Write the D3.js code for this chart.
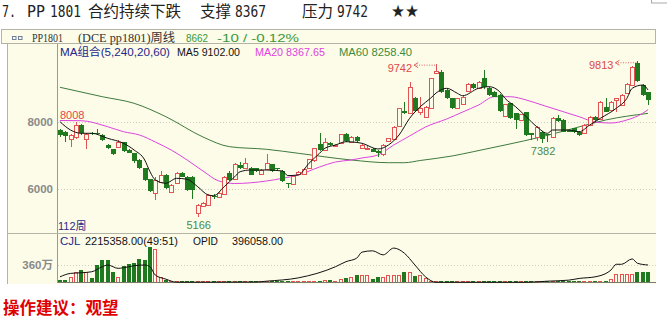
<!DOCTYPE html>
<html>
<head>
<meta charset="utf-8">
<script src="https://cdn.jsdelivr.net/npm/d3@7"></script>
<style>
body { margin: 0; background: #fff; }
svg { display: block; }
</style>
</head>
<body>
<svg id="chart" width="667" height="324"></svg>
<script>
// PP1801 weekly bars, oldest first (112 weeks)
var opens = [7760,7710,7490,7550,7910,7480,7680,7670,7610,7310,7180,7260,7390,7160,7060,6870,6620,6290,5890,6220,
  6420,5920,6170,6490,6370,6370,5270,5490,5530,5800,5760,5870,6480,6300,6720,6640,6640,6620,6440,6620,
  6740,6620,6540,6180,6140,6440,6440,6620,6840,7340,7180,7360,7290,7360,7630,7410,7560,7220,7190,7190,
  7140,7050,7410,7510,7860,8330,8260,8710,8290,8160,8410,9450,9500,8960,8710,8410,8560,8930,9130,9010,
  9300,9020,8900,8820,8160,8560,8260,8060,8290,7660,7560,7710,7630,7560,8130,8060,7760,7810,7710,7660,
  7910,8160,8110,8460,8360,8660,8510,8860,9100,9750,9100,8890];
var highs = [7800,7740,7650,8008,7940,7680,7700,7780,7640,7340,7200,7460,7410,7180,7080,6890,6640,6300,6370,6550,
  6440,6150,6500,6510,6390,6390,5560,5620,5850,5840,5900,6400,6530,6770,6815,6925,6660,6640,6600,7040,
  6760,6640,6560,6190,6410,6530,6620,6910,7230,7660,7510,7400,7350,7650,7660,7580,7580,7330,7280,7210,
  7160,7330,7530,7880,8430,8610,9200,8760,8760,8480,9320,9742,9560,8980,8730,8730,8780,9150,9150,9220,
  9550,9040,8920,8840,8550,8580,8280,8250,8310,7680,7880,7730,7650,8140,8210,8080,7780,7830,7730,7930,
  8180,8180,8630,8730,8630,8730,8830,9150,9670,9813,9120,8910];
var lows = [7560,7400,7260,7500,7620,7190,7600,7610,7420,7200,7020,7240,7100,7060,6790,6600,6250,5900,5670,6200,
  6000,5880,6150,6350,5950,5700,5166,5460,5500,5700,5740,5850,6250,6280,6600,6620,6420,6520,6420,6600,
  6520,6580,6220,6040,6120,6420,6420,6600,6820,7140,7160,7290,7260,7340,7400,7390,7410,7200,7150,7090,
  6960,6990,7390,7490,7840,8240,8240,8290,8200,8140,8390,9430,8880,8690,8390,8390,8540,8910,8990,8990,
  9000,8790,8740,8310,8140,8090,7790,8040,7590,7460,7430,7382,7400,7540,8010,7690,7690,7670,7590,7640,
  7890,8040,8090,8290,8340,8310,8490,8840,9080,9180,8790,8510];
var closes = [7610,7590,7610,7910,7660,7640,7650,7640,7460,7220,7040,7410,7110,7080,6810,6620,6270,5920,6270,6420,
  6020,6120,6470,6370,5970,5990,5520,5590,5820,5770,5880,6370,6270,6740,6630,6790,6440,6540,6570,6790,
  6540,6600,6240,6160,6390,6500,6600,6890,7210,7160,7410,7310,7320,7630,7420,7560,7430,7310,7220,7110,
  7090,7310,7510,7860,8410,8260,9050,8310,8410,8460,9300,9520,8900,8710,8410,8710,8760,9130,9010,9200,
  9020,8810,8760,8330,8530,8110,8060,8230,7610,7610,7860,7510,7590,8120,8030,7710,7710,7690,7610,7910,
  8160,8060,8610,8310,8610,8710,8810,9130,9650,9200,8810,8662];
// volume, 万手
var volume = [50,50,120,210,260,210,100,350,470,470,210,120,330,380,400,490,470,730,680,120,
  50,15,8,4,3,3,4,3,3,3,4,4,3,3,4,4,5,12,14,12,
  15,14,16,15,18,22,28,30,35,40,45,50,40,70,100,120,150,160,160,70,
  120,120,150,160,160,210,210,140,150,100,30,10,4,3,3,3,2,3,3,2,
  3,3,3,2,3,3,4,3,3,3,4,3,3,4,5,5,8,10,9,12,
  10,14,15,30,70,170,170,170,180,210,210,210];

// moving averages: [week, value]
var ma5 = [[0,8009],[2,7761],[4,7663],[6,7663],[9,7513],[12,7364],[14,7164],[16,6866],[17,6516],[18,6269],
  [20,6170],[22,6319],[24,6290],[26,6069],[28,5821],[29,5800],[31,6069],[33,6367],[34,6516],[36,6567],
  [39,6567],[42,6537],[43,6400],[45,6418],[47,6767],[49,7066],[50,7215],[52,7313],[54,7412],[57,7364],
  [60,7194],[62,7313],[64,7612],[66,8110],[68,8457],[70,8716],[71,8866],[73,9006],[75,8857],[76,8785],
  [79,9006],[81,9054],[83,8904],[84,8707],[86,8457],[88,8158],[90,7860],[92,7663],[93,7761],[96,7761],
  [98,7710],[100,7910],[102,8110],[105,8409],[107,8707],[108,9006],[110,9104],[111,8955]];
var ma20 = [[0,8045],[4,8039],[9,7860],[12,7710],[15,7612],[18,7403],[21,7164],[24,6866],[27,6537],[30,6239],
  [33,6164],[39,6239],[42,6319],[45,6418],[49,6657],[52,6806],[55,6866],[57,6925],[60,7015],[63,7313],
  [66,7582],[69,7851],[73,8090],[76,8298],[79,8507],[82,8755],[85,8755],[88,8657],[91,8507],[95,8307],
  [98,8158],[101,8000],[104,7970],[107,8060],[110,8260],[111,8368]];
var ma60 = [[0,9036],[8,8755],[14,8558],[20,8158],[27,7552],[32,7263],[39,7185],[45,7066],[55,6866],[62,6785],
  [65,6785],[68,6851],[74,6985],[78,7113],[84,7313],[91,7561],[97,7812],[103,8060],[111,8258]];
// open interest, 万手
var opid = [[0,12.8],[2,20.6],[4,22],[6,24.3],[8,35.7],[9,39.6],[11,32],[12,33.4],[14,38],[16,39.6],
  [17,35.7],[18,16.7],[20,7.6],[22,0.7],[27,0.7],[37,1.1],[39,3],[45,10.5],[52,35.7],[54,47.2],
  [56,55],[57,68.7],[59,71.7],[61,62.5],[63,77.9],[65,66.4],[67,39.6],[69,12.8],[71,0.5],[88,0.5],
  [92,3],[96,5.3],[98,9.2],[101,12.8],[104,28.2],[105,41.2],[106,41.2],[108,53.4],[109,43.5],[111,39.6]];

var priceTicks = [6000, 8000];
var volTicks = [360];

var svg = d3.select("#chart");
var bg = "#fcfce9", frame = "#b4b4a6";
var red = "#e25454", green = "#1f7a1f";
var sans = "'Liberation Sans', Arial, 'Noto Sans CJK SC', sans-serif";
var cjk = "'Noto Sans CJK SC', sans-serif";
var mono = "'DejaVu Sans Mono', monospace";

var weeks = d3.range(opens.length);
var x = d3.scaleBand().domain(weeks).range([56.5, 651.5]).padding(0.3);
function cx(i) { return x(i) + x.bandwidth() / 2; }
var y = d3.scaleLinear().domain([6000, 8000]).range([189, 122]);
var yv = d3.scaleLinear().domain([0, 360]).range([282.5, 265]);
var yo = d3.scaleLinear().domain([0, 39.6]).range([282.5, 265]);

function label(txt, px, py, o) {
  o = o || {};
  var t = svg.append("text")
    .attr("x", px).attr("y", py)
    .attr("font-family", o.font || sans)
    .attr("font-size", o.size || 11)
    .attr("fill", o.color || "#222")
    .attr("text-anchor", o.anchor || "start")
    .text(txt);
  if (o.weight) t.attr("font-weight", o.weight);
  if (o.len) t.attr("textLength", o.len).attr("lengthAdjust", "spacingAndGlyphs");
  return t;
}

// title
label("7.", 2, 16.5, {font: mono, size: 15, len: 14});
label("PP", 27, 16.5, {font: mono, size: 15, len: 18});
label("1801", 50, 16.5, {font: mono, size: 15, len: 31});
label("合约持续下跌", 88, 16.5, {font: cjk, size: 15.5});
label("支撑", 200, 16.5, {font: cjk, size: 15.5});
label("8367", 235, 16.5, {font: mono, size: 15, len: 31});
label("压力", 302, 16.5, {font: cjk, size: 15.5});
label("9742", 337, 16.5, {font: mono, size: 15, len: 31});
label("★★", 391, 17, {font: "'DejaVu Sans', sans-serif", size: 17, color: "#222", len: 28});
svg.append("rect").attr("x", 651.5).attr("y", -6).attr("width", 20).attr("height", 9)
  .attr("fill", "none").attr("stroke", "#aaa");

// frame
svg.append("rect").attr("x", 1.5).attr("y", 29.5).attr("width", 654).attr("height", 14)
  .attr("fill", bg).attr("stroke", frame);
svg.append("rect").attr("x", 7).attr("y", 44).attr("width", 649).attr("height", 240).attr("fill", bg);
svg.append("line").attr("x1", 7.5).attr("x2", 7.5).attr("y1", 44).attr("y2", 284).attr("stroke", frame);
svg.append("line").attr("x1", 57.5).attr("x2", 57.5).attr("y1", 44).attr("y2", 283).attr("stroke", "#9a9a90");
svg.append("line").attr("x1", 7).attr("x2", 656).attr("y1", 233.5).attr("y2", 233.5).attr("stroke", frame);

// header row
svg.append("rect").attr("x", 12.5).attr("y", 36.5).attr("width", 3.5).attr("height", 3).attr("fill", "none").attr("stroke", "#6f7ea0");
svg.append("rect").attr("x", 18.5).attr("y", 36.5).attr("width", 3.5).attr("height", 3).attr("fill", "none").attr("stroke", "#6f7ea0");
label("PP1801", 32, 41.5, {font: "'Liberation Serif', serif", size: 12, color: "#333", len: 31});
label("(DCE pp1801)周线", 78, 41.5, {font: "'Liberation Serif', 'Noto Sans CJK SC', serif", size: 12, color: "#333", len: 97});
label("8662", 186, 41.5, {size: 11.5, color: "#3a9a3a", len: 22});
label("-10 / -0.12%", 217, 41.5, {size: 11.5, color: "#3a9a3a", len: 82});

// MA row
label("MA组合(5,240,20,60)", 60, 55.5, {size: 11.5, color: "#26268a", len: 110});
label("MA5 9102.00", 177, 55.5, {size: 11.5, color: "#111", len: 63});
label("MA20 8367.65", 255, 55.5, {size: 11.5, color: "#dd44dd", len: 70});
label("MA60 8258.40", 339, 55.5, {size: 11.5, color: "#3c8c3c", len: 73});

// grid + y labels
svg.selectAll(".pgrid").data(priceTicks).enter().append("line")
  .attr("x1", 58).attr("x2", 656)
  .attr("y1", function(d) { return Math.round(y(d)) + 0.5; })
  .attr("y2", function(d) { return Math.round(y(d)) + 0.5; })
  .attr("stroke", "#cfcfc4").attr("stroke-dasharray", "1,2");
svg.selectAll(".plab").data(priceTicks).enter().append("text")
  .attr("x", 53).attr("y", function(d) { return y(d) + 4; })
  .attr("text-anchor", "end").attr("font-family", sans).attr("font-size", 11.5)
  .attr("font-weight", "bold").attr("fill", "#8a8a8a")
  .text(function(d) { return d; });

// moving averages
function maLine(pts, yscale) {
  return d3.line()
    .x(function(d) { return cx(d[0]); })
    .y(function(d) { return yscale(d[1]); })
    .curve(d3.curveMonotoneX)(pts);
}
svg.append("path").attr("d", maLine(ma60, y)).attr("fill", "none").attr("stroke", "#3f7a3f").attr("stroke-width", 1);
svg.append("path").attr("d", maLine(ma20, y)).attr("fill", "none").attr("stroke", "#dd44dd").attr("stroke-width", 1);

// candles
var bars = weeks.map(function(i) {
  return { i: i, o: opens[i], h: highs[i], l: lows[i], c: closes[i], v: volume[i], up: closes[i] >= opens[i] };
});
var cg = svg.append("g").attr("shape-rendering", "crispEdges");
cg.selectAll(".wick").data(bars).enter().append("line")
  .attr("x1", function(d) { return Math.round(cx(d.i)) + 0.5; })
  .attr("x2", function(d) { return Math.round(cx(d.i)) + 0.5; })
  .attr("y1", function(d) { return y(d.h); })
  .attr("y2", function(d) { return y(d.l); })
  .attr("stroke", function(d) { return d.up ? red : green; });
cg.selectAll(".body").data(bars).enter().append("rect")
  .attr("x", function(d) { return d.up ? Math.round(cx(d.i)) - 1.5 : Math.round(cx(d.i)) - 2; })
  .attr("width", function(d) { return d.up ? 4 : 5; })
  .attr("y", function(d) { return Math.round(y(Math.max(d.o, d.c))) + (d.up ? 0.5 : 0); })
  .attr("height", function(d) { return Math.max(1, Math.round(y(Math.min(d.o, d.c)) - y(Math.max(d.o, d.c)))); })
  .attr("fill", function(d) { return d.up ? bg : green; })
  .attr("stroke", function(d) { return d.up ? red : "none"; });

svg.append("path").attr("d", maLine(ma5, y)).attr("fill", "none").attr("stroke", "#111").attr("stroke-width", 1);

// high / low marks
var lab = svg.append("g").attr("font-family", sans).attr("font-size", 11);
lab.append("text").attr("x", 60).attr("y", y(8008) - 3).attr("fill", "#e04848").text("8008");
[[71, 9742], [109, 9813]].forEach(function(m) {
  var tx = cx(m[0]) - 24, ty = y(m[1]) + 1.5;
  lab.append("text").attr("x", tx).attr("y", ty + 6.5).attr("text-anchor", "end").attr("fill", "#e04848").text(m[1]);
  lab.append("line").attr("x1", tx + 2).attr("x2", cx(m[0]) - 1).attr("y1", ty).attr("y2", ty)
    .attr("stroke", "#e06060").attr("stroke-dasharray", "1,1.5");
  lab.append("path").attr("d", "M" + (tx + 6) + "," + (ty - 2.5) + "L" + (tx + 2) + "," + ty + "L" + (tx + 6) + "," + (ty + 2.5))
    .attr("fill", "none").attr("stroke", "#e06060");
});
[[26, 5166], [91, 7382]].forEach(function(m) {
  lab.append("text").attr("x", cx(m[0]) + 1).attr("y", y(m[1]) + 12.5).attr("text-anchor", "middle")
    .attr("fill", "#4a8a4a").text(m[1]);
});
label("112周", 58, 229.5, {size: 11, color: "#2a2a8a"});

// volume panel
label("CJL", 60, 245, {size: 11.5, color: "#26268a"});
label("2215358.00(49:51)", 85, 245, {size: 11.5, color: "#111", len: 93});
label("OPID", 193, 245, {size: 11.5, color: "#111", len: 25});
label("396058.00", 232, 245, {size: 11.5, color: "#111", len: 51});

svg.selectAll(".vgrid").data(volTicks).enter().append("line")
  .attr("x1", 58).attr("x2", 656)
  .attr("y1", function(d) { return Math.round(yv(d)) + 0.5; })
  .attr("y2", function(d) { return Math.round(yv(d)) + 0.5; })
  .attr("stroke", "#cfcfc4").attr("stroke-dasharray", "1,2");
svg.selectAll(".vlab").data(volTicks).enter().append("text")
  .attr("x", 53).attr("y", function(d) { return yv(d) + 4; })
  .attr("text-anchor", "end").attr("font-family", sans).attr("font-size", 11.5)
  .attr("font-weight", "bold").attr("fill", "#8a8a8a")
  .text(function(d) { return d + "万"; });

var vg = svg.append("g").attr("shape-rendering", "crispEdges");
vg.selectAll(".vol").data(bars).enter().append("rect")
  .attr("x", function(d) { return d.up ? Math.round(cx(d.i)) - 1.5 : Math.round(cx(d.i)) - 2; })
  .attr("width", function(d) { return d.up ? 3 : 4; })
  .attr("y", function(d) { return Math.min(Math.round(yv(d.v)), 281) + (d.up ? 0.5 : 0); })
  .attr("height", function(d) { return Math.max(1, 282 - Math.min(Math.round(yv(d.v)), 281)); })
  .attr("fill", function(d) { return d.up ? bg : green; })
  .attr("stroke", function(d) { return d.up ? red : "none"; });

svg.append("line").attr("x1", 58).attr("x2", 656).attr("y1", 282.5).attr("y2", 282.5).attr("stroke", "#7a7a72");
svg.append("path").attr("d", maLine(opid, yo)).attr("fill", "none").attr("stroke", "#111").attr("stroke-width", 1);

// advice
label("操作建议：观望", 3, 314, {font: cjk, size: 16.5, weight: "bold", color: "#e00000"});
</script>
</body>
</html>
